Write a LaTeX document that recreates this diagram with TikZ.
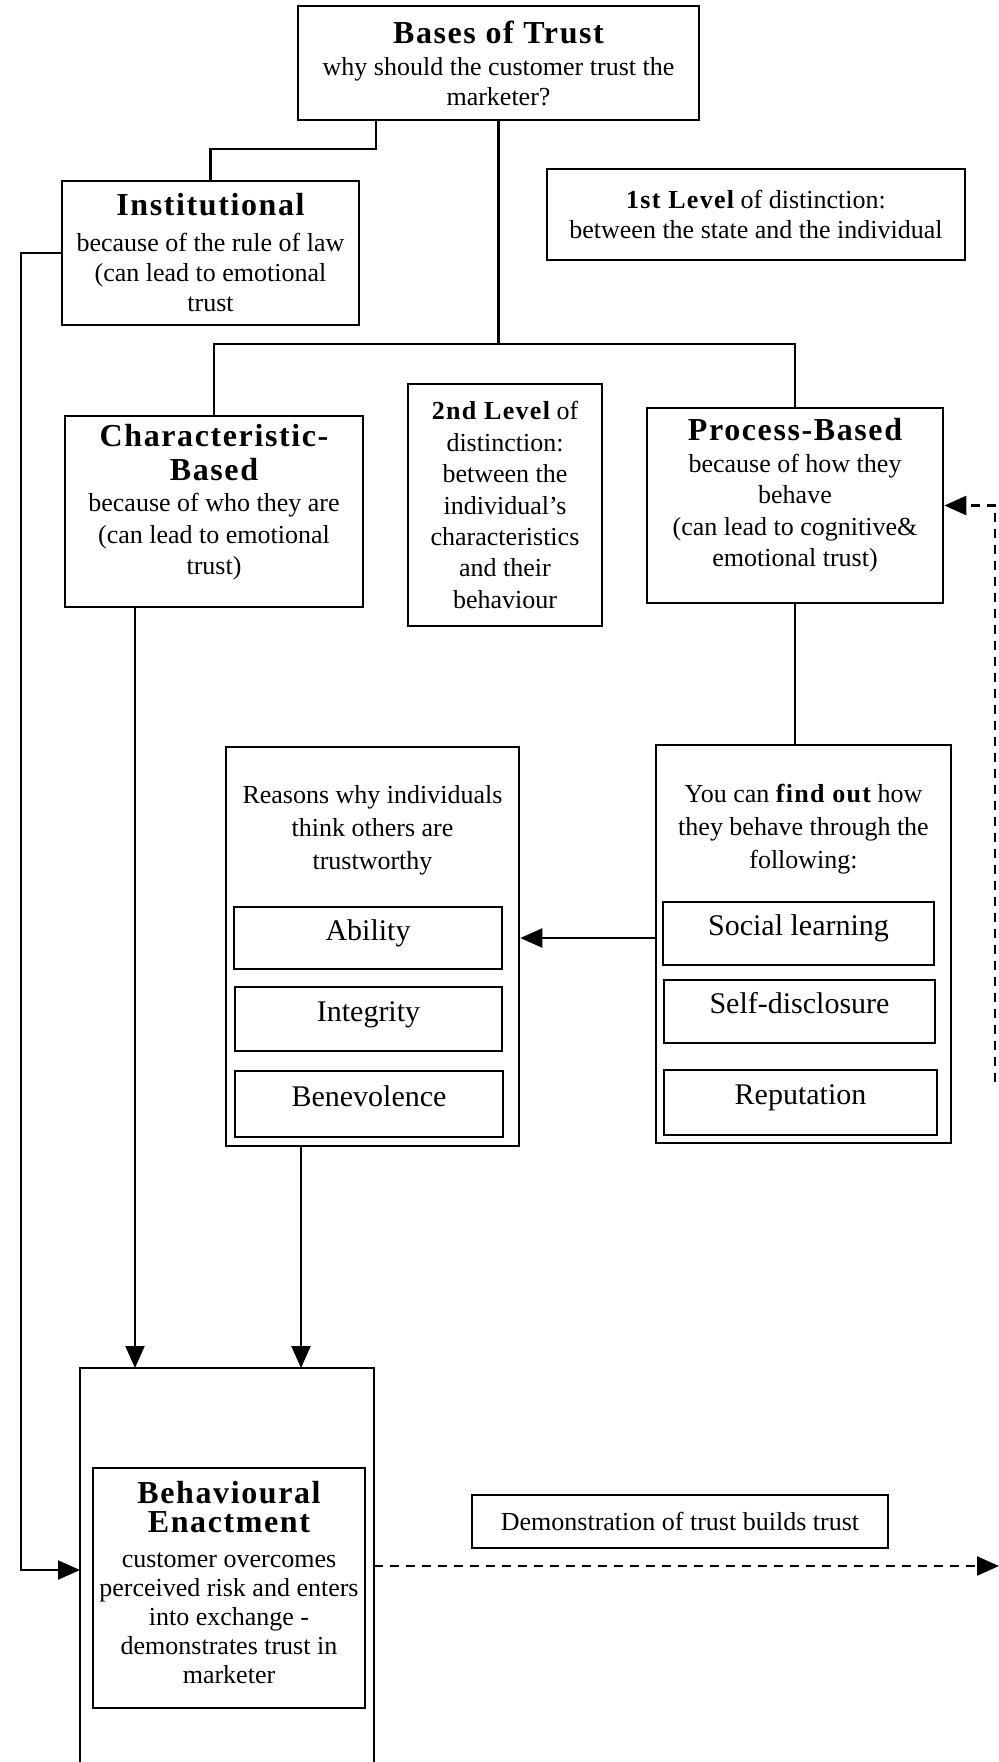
\documentclass[tikz,border=0pt]{standalone}
\usepackage{fontspec}
\setmainfont{Liberation Serif}
\newfontfamily\headfont[LetterSpace=5]{Liberation Serif}
\usetikzlibrary{arrows.meta}
\newcommand{\hd}[1]{{\fontsize{16}{18}\selectfont\headfont\bfseries #1}}
\newcommand{\bsp}[1]{{\headfont\bfseries #1}}

\begin{document}
\begin{tikzpicture}[x=0.5pt,y=-0.5pt]
    \tikzset{Box/.style={%
        shape=rectangle,%
        draw=black,%
        line width=1.3pt,%
        align=center,%
        inner sep=2pt,%
        font=\fontsize{13}{15}\selectfont,%
    }}
    \tikzset{Item/.style={Box, font=\fontsize{15}{17}\selectfont, text height=11pt, text depth=9pt}}
    \tikzset{Link/.style={line width=1.1pt}}
    \tikzset{Arrow/.style={Link, -{Triangle[length=11pt,width=9.5pt]}}}
    \tikzset{DashArrow/.style={Arrow, line width=1.2pt, dash pattern=on 4.5pt off 3.5pt}}

    \useasboundingbox (0,0) rectangle (999,1762);

    % top level
    \node[Box, minimum width=200.5pt, minimum height=57pt] (bases) at (498.5,63)
        {\hd{Bases of Trust}\\[1pt]why should the customer trust the\\marketer?};
    \node[Box, minimum width=148.5pt, minimum height=72pt] (inst) at (210.5,253)
        {\hd{Institutional}\\[3pt]because of the rule of law\\(can lead to emotional\\trust};
    \node[Box, minimum width=209pt, minimum height=45.5pt] (lvl1) at (756,214.5)
        {\bsp{1st Level} of distinction:\\between the state and the individual};

    % second level
    \node[Box, minimum width=149pt, minimum height=95.5pt, font=\fontsize{13}{15.7}\selectfont, text depth=12pt] (chars) at (214,511.5)
        {\hd{Characteristic-}\\[1pt]\hd{Based}\\[0pt]because of who they are\\(can lead to emotional\\trust)};
    \node[Box, minimum width=97pt, minimum height=121pt, font=\fontsize{13}{15.7}\selectfont] (lvl2) at (505,505)
        {\bsp{2nd Level} of\\distinction:\\between the\\individual's\\characteristics\\and their\\behaviour};
    \node[Box, minimum width=148pt, minimum height=97.5pt, font=\fontsize{13}{15.7}\selectfont, text depth=13pt] (proc) at (795,505.5)
        {\hd{Process-Based}\\because of how they\\behave\\(can lead to cognitive\&\\emotional trust)};

    % reasons and ways to find out
    \node[Box, minimum width=146.5pt, minimum height=199.5pt] (reas) at (372.5,946.5) {};
    \node[font=\fontsize{13}{16.5}\selectfont, align=center] (reasT) at (372.5,830)
        {Reasons why individuals\\think others are\\trustworthy};
    \node[Item, minimum width=134pt, minimum height=31pt] (abil) at (368,938) {Ability};
    \node[Item, minimum width=133.5pt, minimum height=32pt] (integ) at (368.5,1019) {Integrity};
    \node[Item, minimum width=134pt, minimum height=33pt] (benev) at (369,1104) {Benevolence};

    \node[Box, minimum width=147.5pt, minimum height=199pt] (find) at (803.5,944) {};
    \node[font=\fontsize{13}{16.5}\selectfont, align=center] (findT) at (803.5,829)
        {You can \bsp{find out} how\\they behave through the\\following:};
    \node[Item, minimum width=135.5pt, minimum height=31.5pt] (social) at (798.5,933.5) {Social learning};
    \node[Item, minimum width=135.5pt, minimum height=31.5pt] (selfd) at (799.5,1011.5) {Self-disclosure};
    \node[Item, minimum width=136.5pt, minimum height=32.5pt] (reput) at (800.5,1102.5) {Reputation};

    % behavioural enactment
    \coordinate (enTL) at (80,1368);
    \coordinate (enTR) at (374,1368);
    \coordinate (enL) at (80,1570);
    \coordinate (enR) at (374,1566);
    \coordinate (edgeR) at (999,1566);
    \coordinate (loopB) at (995,1082);
    \draw[line width=1.3pt] (80,1762) -- (enTL) -- (enTR) -- (374,1762);
    \node[Box, minimum width=136pt, minimum height=120pt, font=\fontsize{13}{14.5}\selectfont, text depth=6pt] (enact) at (229,1588)
        {\hd{Behavioural}\\[0pt]\hd{Enactment}\\[3pt]customer overcomes\\perceived risk and enters\\into exchange -\\demonstrates trust in\\marketer};
    \node[Box, minimum width=208pt, minimum height=26.5pt] (demo) at (680,1521.5)
        {Demonstration of trust builds trust};

    % links
    \draw[Link] ([xshift=-61.25pt]bases.south) -- ++(0,28) -| (inst.north);
    \draw[Link] (bases.south) -- ++(0,223) coordinate (split);
    \draw[Link] (split) -| (chars.north);
    \draw[Link] (split) -| (proc.north);
    \draw[Link] (proc.south) -- (proc.south |- find.north);
    \draw[Arrow] (find.west |- abil.center) -- (abil.center -| reas.east);
    \draw[Arrow] ([xshift=-39.5pt]chars.south) -- ([xshift=-39.5pt]chars.south |- enTL);
    \draw[Arrow] ([xshift=-35.75pt]reas.south) -- ([xshift=-35.75pt]reas.south |- enTL);
    \draw[Arrow] (inst.west) -- ++(-40,0) |- (enL);
    \draw[DashArrow] (enR) -- (edgeR);
    \draw[DashArrow] (loopB) |- (proc.east);
\end{tikzpicture}
\end{document}
